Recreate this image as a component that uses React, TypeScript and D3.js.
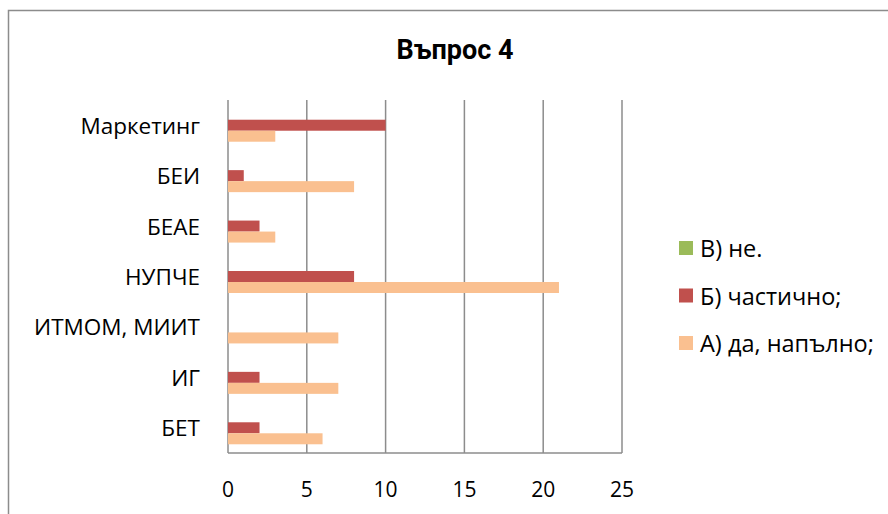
import React from "react";
import * as d3 from "d3";

const categories = ["Маркетинг", "БЕИ", "БЕАЕ", "НУПЧЕ", "ИТМОМ, МИИТ", "ИГ", "БЕТ"];
const seriesNames = ["В) не.", "Б) частично;", "А) да, напълно;"];
const seriesV = [0, 0, 0, 0, 0, 0, 0];
const seriesB = [10, 1, 2, 8, 0, 2, 2];
const seriesA = [3, 8, 3, 21, 7, 7, 6];
const xTicks = [0, 5, 10, 15, 20, 25];
const colors = ["#9BBB59", "#C0504D", "#FAC090"];

export default function App() {
  const W = 888, H = 514;
  const x = d3.scaleLinear().domain([0, 25]).range([228, 622]);
  const y = d3.scaleBand().domain(categories).range([100, 453]).paddingInner(0).paddingOuter(0);
  const groupH = 33;
  const sub = d3.scaleBand().domain(seriesNames).range([0, groupH]);
  const all = [seriesV, seriesB, seriesA];
  const font = "'Open Sans', 'DejaVu Sans', sans-serif";
  const grid = "#8c8c8c";
  return (
    <svg width={W} height={H} style={{ position: "absolute", left: 0, top: 0 }}>
      <rect x={0} y={0} width={W} height={H} fill="#fff" />
      <path d={`M8.5,${H} V10.5 H${W}`} fill="none" stroke="#8c8c8c" strokeWidth={1.5} />
      <text x={455} y={59} textAnchor="middle" fontFamily="Roboto, 'Liberation Sans', sans-serif" fontWeight="bold" fontSize={27} fill="#000">Въпрос 4</text>
      {xTicks.map((t) => (
        <line key={t} x1={x(t)} x2={x(t)} y1={100} y2={453} stroke={grid} strokeWidth={1.5} />
      ))}
      <line x1={x(0)} x2={x(25)} y1={453} y2={453} stroke={grid} strokeWidth={1.5} />
      {categories.map((c, i) => {
        const y0 = (y(c) as number) + (y.bandwidth() - groupH) / 2;
        return all.map((s, k) => (
          s[i] > 0 ? (
            <rect key={c + k} x={x(0)} y={y0 + (sub(seriesNames[k]) as number)} width={x(s[i]) - x(0)} height={sub.bandwidth()} fill={colors[k]} />
          ) : null
        ));
      })}
      {categories.map((c) => (
        <text key={c} x={200} y={(y(c) as number) + y.bandwidth() / 2} textAnchor="end" dominantBaseline="central" fontFamily={font} fontSize={22.5} fill="#000">{c}</text>
      ))}
      {xTicks.map((t) => (
        <text key={t} x={x(t)} y={489} textAnchor="middle" dominantBaseline="central" fontFamily={font} fontSize={21} fill="#000">{t}</text>
      ))}
      {seriesNames.map((n, k) => (
        <g key={n} transform={`translate(679, ${248 + k * 47.5})`}>
          <rect x={0} y={-7} width={14} height={14} fill={colors[k]} />
          <text x={21} y={0} dominantBaseline="central" fontFamily={font} fontSize={23.5} fill="#000">{n}</text>
        </g>
      ))}
    </svg>
  );
}
